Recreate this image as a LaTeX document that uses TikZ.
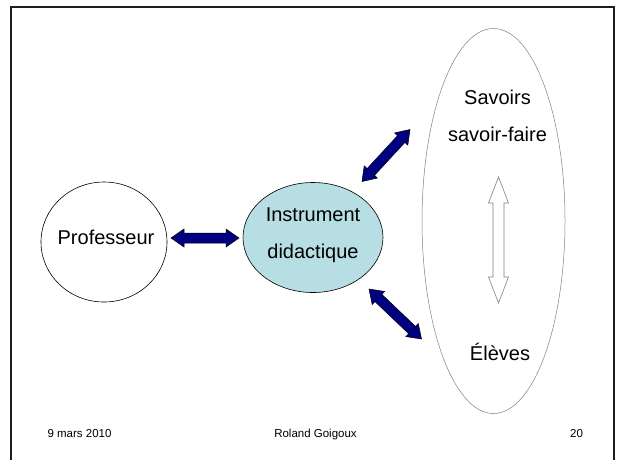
\documentclass[tikz,border=0pt]{standalone}
\usepackage{fontspec}
\setmainfont{Liberation Sans}
\usetikzlibrary{calc,shapes.geometric}
\definecolor{navyarrow}{RGB}{0,0,128}
\definecolor{instrfill}{RGB}{183,222,226}
\definecolor{framecol}{RGB}{30,30,30}
% #1 style, #2 from, #3 to, #4 head length, #5 head half width, #6 shaft half width
\newcommand\twowayarrow[6]{%
 \path[#1] let \p1=($(#3)-(#2)$), \n1={atan2(\y1,\x1)} in
 (#2) -- ($(#2)+(\n1:#4)+(\n1+90:#5)$) -- ($(#2)+(\n1:#4)+(\n1+90:#6)$)
 -- ($(#3)+(\n1+180:#4)+(\n1+90:#6)$) -- ($(#3)+(\n1+180:#4)+(\n1+90:#5)$) -- (#3)
 -- ($(#3)+(\n1+180:#4)+(\n1-90:#5)$) -- ($(#3)+(\n1+180:#4)+(\n1-90:#6)$)
 -- ($(#2)+(\n1:#4)+(\n1-90:#6)$) -- ($(#2)+(\n1:#4)+(\n1-90:#5)$) -- cycle;}
\tikzset{
  bigtext/.style={font=\fontsize{20}{37}\selectfont, align=center, inner sep=0pt},
  foot/.style={font=\fontsize{11.5}{13}\selectfont, inner sep=0pt, anchor=base},
  oval/.style={ellipse, inner sep=0pt, line width=0.6pt},
  navyblock/.style={fill=navyarrow, draw=black, line width=0.5pt, line join=miter},
  hollowblock/.style={fill=white, draw=gray, line width=0.6pt, line join=miter},
}
\begin{document}
\begin{tikzpicture}[x=1pt,y=-1pt]
\useasboundingbox (0,0) rectangle (620,459);
\fill[white] (0,0) rectangle (620,459);
\draw[framecol, line width=2pt] (11,470) -- (11,7) -- (614,7) -- (614,470);

% nodes
\node[oval, draw=black, minimum width=126pt, minimum height=120pt] (prof) at (104,242) {};
\node[bigtext] (proftxt) at (106,237) {Professeur};
\node[oval, draw=black, fill=instrfill, minimum width=140pt, minimum height=110pt] (instr) at (313,237.5) {};
\node[bigtext] (instrtxt) at (313,235.5) {Instrument\\didactique};
\node[oval, draw=gray, line width=0.5pt, minimum width=143pt, minimum height=385pt] (big) at (493.5,221) {};
\node[bigtext] (sav) at (497.5,116) {Savoirs\\savoir-faire};
\node[bigtext] (elev) at (500,352) {Élèves};

% footer
\node[foot] (date) at (79.5,437.5) {9 mars 2010};
\node[foot] (auth) at (315.5,437.5) {Roland Goigoux};
\node[foot] (num) at (576.5,437.5) {20};

% arrow end points
\coordinate (pa) at (171,238);
\coordinate (pb) at (239,238);
\coordinate (ua) at (362,181.5);
\coordinate (ub) at (410,129.5);
\coordinate (la) at (369,289);
\coordinate (lb) at (421.5,339);
\coordinate (va) at (498.5,177);
\coordinate (vb) at (498.5,303);

\twowayarrow{navyblock}{pa}{pb}{13pt}{9pt}{5pt}
\twowayarrow{navyblock}{ua}{ub}{13pt}{9pt}{5pt}
\twowayarrow{navyblock}{la}{lb}{13pt}{9pt}{5pt}
\twowayarrow{hollowblock}{va}{vb}{26pt}{10pt}{5.5pt}
\end{tikzpicture}
\end{document}
